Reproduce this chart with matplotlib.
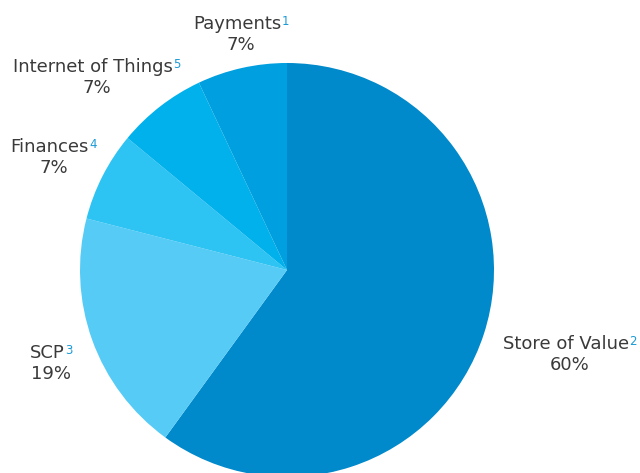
import matplotlib
matplotlib.use("Agg")
from matplotlib import pyplot as plt
from matplotlib.transforms import offset_copy

# data (clockwise from 12 o'clock)
categories = ["Store of Value", "SCP", "Finances", "Internet of Things", "Payments"]
shares = [60, 19, 7, 7, 7]
footnotes = ["2", "3", "4", "5", "1"]
colors = ["#0089CB", "#56CBF6", "#2DC3F3", "#00B1EC", "#009FDF"]

# label anchor (block centre x, name baseline y), in pie-radius units
label_pos = [(1.367, -0.382), (-1.138, -0.425), (-1.128, 0.570),
             (-0.918, 0.957), (-0.222, 1.164)]

text_color = "#3a3a3a"
sup_color = "#1a9ad6"
font = "DejaVu Sans"

fig = plt.figure(figsize=(6.4, 4.73), dpi=100)
# pie centre at (287, 270) px, radius 207 px
ax = fig.add_axes([80 / 640, (473 - 270 - 207) / 473, 414 / 640, 414 / 473])
ax.pie(shares, colors=colors, startangle=90, counterclock=False, radius=1,
       wedgeprops=dict(linewidth=0))
ax.set_xlim(-1, 1)
ax.set_ylim(-1, 1)
ax.axis("off")

renderer = fig.canvas.get_renderer()
gap = 0.5
for name, val, sup, (cx, cy) in zip(categories, shares, footnotes, label_pos):
    # measure widths first
    t_name = ax.text(cx, cy, name, ha="left", va="baseline", fontsize=13,
                     color=text_color, family=font)
    t_sup = ax.text(cx, cy, sup, ha="left", va="baseline", fontsize=8.5,
                    color=sup_color, family=font)
    w_name = t_name.get_window_extent(renderer).width
    w_sup = t_sup.get_window_extent(renderer).width
    left = -(w_name + gap + w_sup) / 2
    t_name.set_transform(offset_copy(ax.transData, fig, left, 0, units="dots"))
    t_sup.set_transform(offset_copy(ax.transData, fig, left + w_name + gap, 4, units="dots"))
    ax.text(cx, cy, f"{val}%", ha="center", va="baseline", fontsize=13,
            color=text_color, family=font,
            transform=offset_copy(ax.transData, fig, 0, -21, units="dots"))

fig.savefig("out.png", dpi=100)
